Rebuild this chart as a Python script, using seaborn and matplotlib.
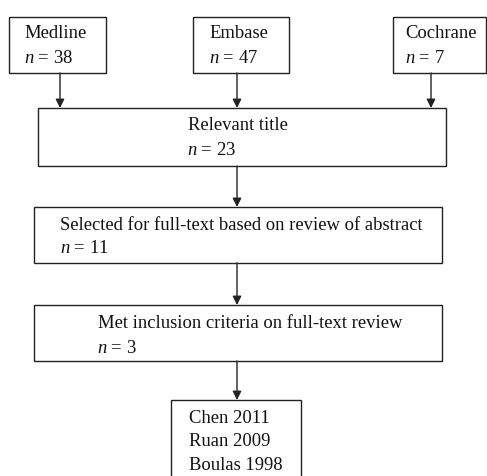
import matplotlib
matplotlib.use("Agg")
import matplotlib.pyplot as plt
import seaborn as sns
from matplotlib.patches import Rectangle

# ---- data ----
sources = ["Medline", "Embase", "Cochrane"]
source_n = [38, 47, 7]
stage_labels = ["Relevant title",
                "Selected for full-text based on review of abstract",
                "Met inclusion criteria on full-text review"]
stage_n = [23, 11, 3]
included = ["Chen 2011", "Ruan 2009", "Boulas 1998"]

sns.set_theme(style="white")
plt.rcParams["font.family"] = ["Liberation Serif", "DejaVu Serif"]
plt.rcParams["mathtext.fontset"] = "custom"
plt.rcParams["mathtext.it"] = "Liberation Serif:italic"
plt.rcParams["mathtext.rm"] = "Liberation Serif"

W, H = 487, 476
fig = plt.figure(figsize=(W / 100, H / 100), dpi=100)
ax = fig.add_axes([0, 0, 1, 1])
ax.set_xlim(0, W)
ax.set_ylim(H, 0)
ax.axis("off")

FS = 13.4
LC = "#222222"
LW = 1.0

def box(x0, y0, x1, y1):
    ax.add_patch(Rectangle((x0, y0), x1 - x0, y1 - y0, fill=False,
                           edgecolor=LC, linewidth=LW))

def arrow(x, y0, y1):
    ax.annotate("", xy=(x, y1), xytext=(x, y0),
                arrowprops=dict(arrowstyle="-|>", color=LC, lw=LW,
                                mutation_scale=13, shrinkA=0, shrinkB=0))

def txt(x, y, s):
    ax.text(x, y, s, fontsize=FS, va="baseline", ha="left", color="#111111")

# source boxes
src_boxes = [(9, 17, 106, 73), (193, 17, 289, 73), (393, 17, 486, 73)]
src_text_x = [24, 209, 405]
src_arrow_x = [60, 237, 431]
for (b, tx, axx, name, n) in zip(src_boxes, src_text_x, src_arrow_x, sources, source_n):
    box(*b)
    txt(tx, 38, name)
    txt(tx, 63, "$n$ = %d" % n)
    arrow(axx, b[3], 108)

# stage boxes
stage_boxes = [(38, 108, 446, 166), (34, 207, 442, 263), (34, 305, 442, 361)]
stage_text = [(188, 130, 187, 155), (60, 230, 60, 253), (98, 328, 97, 353)]
for i, (b, t, lab, n) in enumerate(zip(stage_boxes, stage_text, stage_labels, stage_n)):
    box(*b)
    txt(t[0], t[1], lab)
    txt(t[2], t[3], "$n$ = %d" % n)
    nxt_top = stage_boxes[i + 1][1] if i + 1 < len(stage_boxes) else 400
    arrow(237, b[3], nxt_top)

# included studies
box(171, 400, 301, 480)
for j, s in enumerate(included):
    txt(189, 423 + j * 23.5, s)

fig.savefig("out.png", dpi=100)
